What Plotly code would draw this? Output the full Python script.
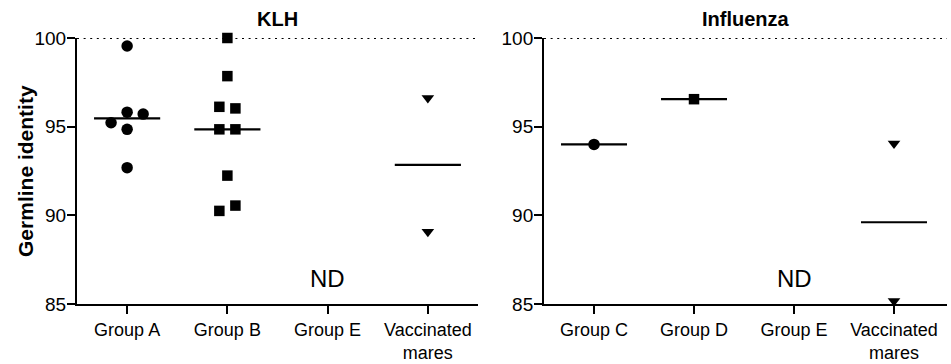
import numpy as np
import plotly.graph_objects as go

# ---------------- data ----------------
klh_categories = ["Group A", "Group B", "Group E", "Vaccinated<br>mares"]
flu_categories = ["Group C", "Group D", "Group E", "Vaccinated<br>mares"]

klh_group_a = [99.55, 95.82, 95.71, 95.22, 94.85, 92.69]
klh_group_b = [100.0, 97.85, 96.12, 96.03, 94.85, 94.85, 92.24, 90.55, 90.25]
klh_group_e = []
klh_mares = [96.62, 89.08]

flu_group_c = [94.0]
flu_group_d = [96.55]
flu_group_e = []
flu_mares = [94.05, 85.17]

y_ticks = [85, 90, 95, 100]
not_done_label = "ND"

# horizontal scatter offsets (layout only)
off_a = [0, 0, 0.16, -0.16, 0, 0]
off_b = [0, 0, -0.08, 0.08, -0.08, 0.08, 0, 0.08, -0.08]
off_mares = [0, 0]
off_single = [0]

FONT = "Liberation Sans, Arial, sans-serif"
MEDIAN_HALF = 0.33

fig = go.Figure()


def add_group(values, offsets, idx, symbol, size, xa, ya):
    if len(values) == 0:
        return
    xs = [idx + o for o in offsets]
    fig.add_trace(go.Scatter(
        x=xs, y=values, mode="markers", xaxis=xa, yaxis=ya,
        marker=dict(symbol=symbol, size=size, color="black", line=dict(width=0)),
        cliponaxis=False, showlegend=False, hoverinfo="y"))
    med = float(np.median(values))
    fig.add_trace(go.Scatter(
        x=[idx - MEDIAN_HALF, idx + MEDIAN_HALF], y=[med, med], mode="lines",
        xaxis=xa, yaxis=ya, line=dict(color="black", width=2.2),
        cliponaxis=False, showlegend=False, hoverinfo="skip"))


# KLH panel
add_group(klh_group_a, off_a, 0, "circle", 11.5, "x", "y")
add_group(klh_group_b, off_b, 1, "square", 10.5, "x", "y")
add_group(klh_group_e, [], 2, "circle", 11.5, "x", "y")
add_group(klh_mares, off_mares, 3, "triangle-down", 11, "x", "y")

# Influenza panel
add_group(flu_group_c, off_single, 0, "circle", 11.5, "x2", "y2")
add_group(flu_group_d, off_single, 1, "square", 10.5, "x2", "y2")
add_group(flu_group_e, [], 2, "circle", 11.5, "x2", "y2")
add_group(flu_mares, off_mares, 3, "triangle-down", 11, "x2", "y2")

axis_common = dict(
    showline=True, linecolor="black", linewidth=2, mirror=False,
    ticks="outside", ticklen=8, tickwidth=2, tickcolor="black",
    showgrid=False, zeroline=False, automargin=False,
)
x_font = dict(family=FONT, size=18, color="black")
y_font = dict(family=FONT, size=19, color="black")

fig.update_layout(
    template="none",
    width=951, height=364,
    margin=dict(l=77, r=4, t=38, b=60, autoexpand=False),
    paper_bgcolor="white", plot_bgcolor="white",
    font=dict(family=FONT, color="black"),
    xaxis=dict(domain=[0, 0.4609], range=[-0.5, 3.5], anchor="y",
               tickvals=list(range(len(klh_categories))), ticktext=klh_categories,
               ticklabelstandoff=0, tickfont=x_font, **axis_common),
    yaxis=dict(domain=[0, 1], range=[85, 100], anchor="x", tickvals=y_ticks,
               ticklabelstandoff=-3, tickfont=y_font, **axis_common),
    xaxis2=dict(domain=[0.5368, 1], range=[-0.5, 3.53], anchor="y2",
                tickvals=list(range(len(flu_categories))), ticktext=flu_categories,
                ticklabelstandoff=0, tickfont=x_font, **axis_common),
    yaxis2=dict(domain=[0, 1], range=[85, 100], anchor="x2", tickvals=y_ticks,
                ticklabelstandoff=-3, tickfont=y_font, **axis_common),
)

# dotted reference line at 100 %
for xr, yr in [("x domain", "y"), ("x2 domain", "y2")]:
    fig.add_shape(type="line", xref=xr, yref=yr, x0=0, x1=1, y0=100, y1=100,
                  line=dict(color="black", width=2, dash="2px,4.6px"))

# panel titles
fig.add_annotation(text="<b>KLH</b>", xref="x domain", yref="paper", x=0.5, y=1.0,
                   yshift=6, yanchor="bottom", showarrow=False,
                   font=dict(family=FONT, size=20, color="black"))
fig.add_annotation(text="<b>Influenza</b>", xref="x2 domain", yref="paper", x=0.5, y=1.0,
                   yshift=6, yanchor="bottom", showarrow=False,
                   font=dict(family=FONT, size=20, color="black"))

# y-axis title
fig.add_annotation(text="<b>Germline identity</b>", xref="paper", yref="paper",
                   x=-0.0598, y=0.5, xanchor="center", yanchor="middle",
                   textangle=-90, showarrow=False,
                   font=dict(family=FONT, size=21, color="black"))

# ND labels
fig.add_annotation(text=not_done_label, xref="x", yref="y", x=2, y=86.45,
                   showarrow=False, font=dict(family=FONT, size=24, color="black"))
fig.add_annotation(text=not_done_label, xref="x2", yref="y2", x=2, y=86.45,
                   showarrow=False, font=dict(family=FONT, size=24, color="black"))

fig.write_html("out.html")
